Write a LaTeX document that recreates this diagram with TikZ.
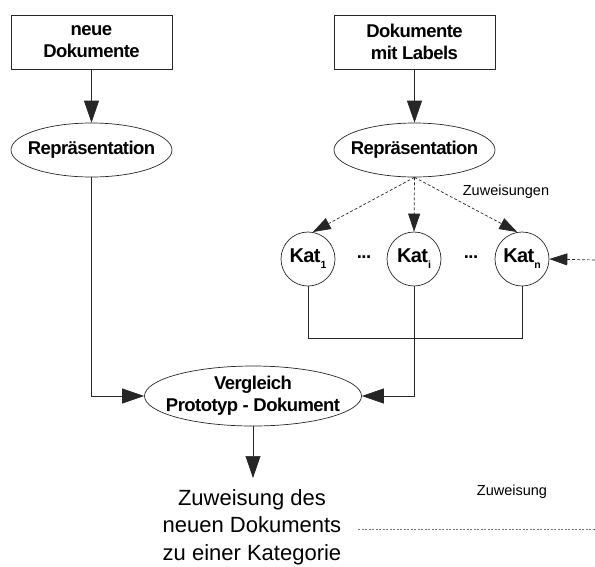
\documentclass[tikz,border=0pt]{standalone}
\usepackage{fontspec}
\setmainfont{Liberation Sans}
\newfontfamily\tightbold[LetterSpace=-3]{Liberation Sans}
\usetikzlibrary{arrows.meta,shapes.geometric}
\tikzset{
  conn/.style={line width=0.7pt, draw=black!85},
  solidarr/.style={conn, -{Triangle[length=22pt,width=15pt]}},
  dasharr/.style={conn, dash pattern=on 3pt off 2pt, -{Triangle[length=18pt,width=12pt]}},
  boxnode/.style={draw=black!85, line width=0.7pt, minimum width=161pt, minimum height=54pt, inner sep=0pt},
  ellnode/.style={ellipse, draw=black!85, line width=0.7pt, inner sep=0pt},
  btxt/.style={font=\fontsize{18.5}{22}\selectfont\tightbold\bfseries, align=center, inner sep=0pt},
  katnode/.style={circle, draw=black!85, line width=0.7pt, minimum size=54pt, inner sep=0pt,
    font=\fontsize{20}{20}\selectfont\tightbold\bfseries},
  small/.style={font=\fontsize{14.5}{16}\selectfont, inner sep=0pt},
  big/.style={font=\fontsize{22}{27.5}\selectfont, align=center, inner sep=0pt},
}
\newcommand{\katsub}[1]{\raisebox{-6pt}{\fontsize{10.5}{10.5}\selectfont\bfseries #1}}
\begin{document}
\begin{tikzpicture}[x=1pt, y=-1pt]
\useasboundingbox (0,0) rectangle (595,566);

% input boxes
\node[boxnode] (nd) at (91.5,42) {};
\node[btxt] at (nd) {neue\\Dokumente};
\node[boxnode] (dl) at (414.5,42) {};
\node[btxt] at (dl) {Dokumente\\mit Labels};

% representations
\node[ellnode, minimum width=161pt, minimum height=54pt] (r1) at (91.5,150) {};
\node[btxt] at (r1) {Repräsentation};
\node[ellnode, minimum width=161pt, minimum height=54pt] (r2) at (414.5,150) {};
\node[btxt] at (r2) {Repräsentation};

% categories
\node[katnode] (k1) at (308,259) {Kat\katsub{1}};
\node[katnode] (ki) at (414,259) {Kat\katsub{i}};
\node[katnode] (kn) at (522,259) {Kat\katsub{n}};
\node[btxt] (d1) at (364,257) {...};
\node[btxt] (d2) at (471,257) {...};

% comparison
\node[ellnode, minimum width=217pt, minimum height=60pt] (cmp) at (253,396) {};
\node[btxt] at (cmp) {Vergleich\\Prototyp - Dokument};

% result
\node[big] (res) at (252,527) {Zuweisung des\\neuen Dokuments\\zu einer Kategorie};
\coordinate (resin) at (253,478);

% labels
\node[small] (lz1) at (506,192) {Zuweisungen};
\node[small] (lz2) at (512,492) {Zuweisung};

% free ends
\coordinate (rin) at (595,260);
\coordinate (lout) at (595,529);
\coordinate (lin) at (358,529);

% solid connectors
\draw[solidarr] (nd.south) -- (r1.north);
\draw[solidarr] (dl.south) -- (r2.north);
\draw[solidarr] (r1.south) |- (cmp.west);
\draw[solidarr] (ki.south) |- (cmp.east);
\draw[conn] (k1.south) -- ++(0,52) -| (kn.south);
\draw[solidarr] (cmp.south) -- (resin);

% dashed assignments
\draw[dasharr] (r2.south) -- (k1.80);
\draw[dasharr] (r2.south) -- (ki.north);
\draw[dasharr] (r2.south) -- (kn.100);
\draw[dasharr] (rin) -- (kn.east);

% legend line
\draw[line width=0.7pt, draw=black!55, dash pattern=on 2pt off 1.5pt] (lin) -- (lout);
\end{tikzpicture}
\end{document}
